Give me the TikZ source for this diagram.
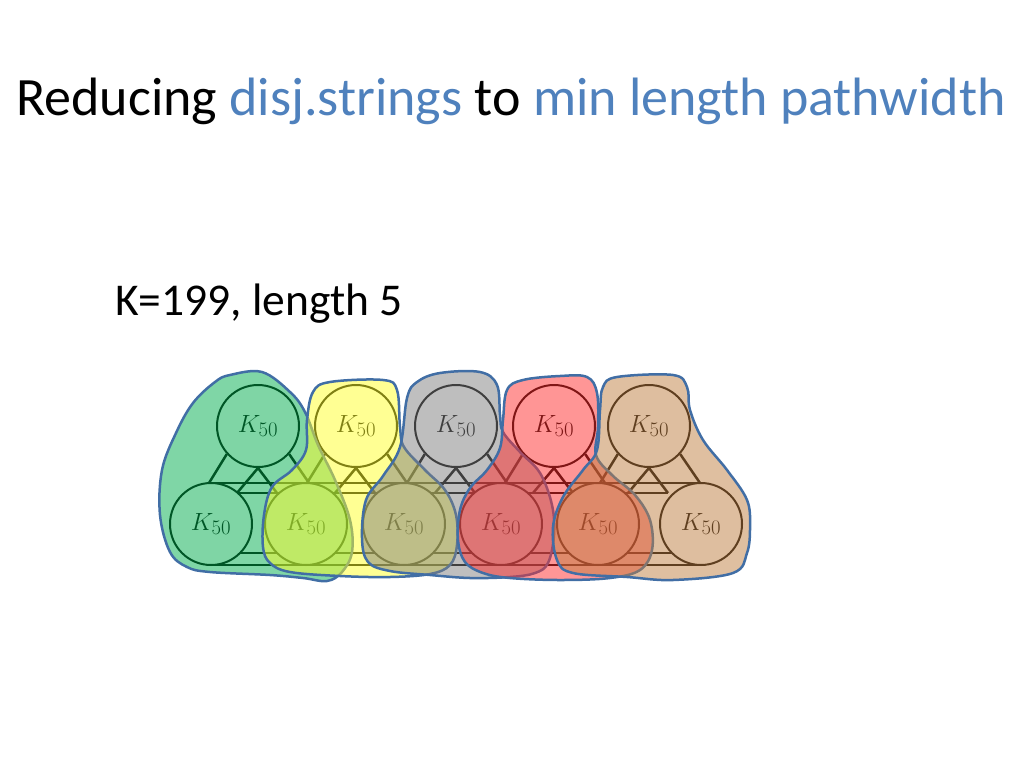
\documentclass[tikz,border=0pt]{standalone}
\usepackage{fontspec}
\setmainfont{Carlito}
\usetikzlibrary{calc}
\definecolor{accentblue}{RGB}{79,129,189}
\definecolor{blobline}{RGB}{65,110,165}
\definecolor{gfill}{RGB}{0,173,77}
\definecolor{yfill}{RGB}{255,255,40}
\definecolor{grfill}{RGB}{127,127,127}
\definecolor{rfill}{RGB}{255,45,45}
\definecolor{bfill}{RGB}{191,127,65}
\begin{document}
\begin{tikzpicture}[x=1pt,y=-1pt]
\useasboundingbox (0,0) rectangle (1024,768);
\tikzset{
  kc/.style={circle, draw=black, fill=white, line width=2pt, minimum size=82pt, inner sep=0pt, font=\fontsize{28}{28}\selectfont},
  edge/.style={line width=2.5pt, black},
  blob/.style={draw=blobline, line width=2.5pt, fill opacity=0.5, line join=round},
  titletext/.style={font=\fontsize{54}{60}\selectfont, inner sep=0pt},
  subtext/.style={font=\fontsize{45.5}{55}\selectfont, inner sep=0pt}
}
% title
\node[titletext, anchor=base] (title) at (511,115) {Reducing \textcolor{accentblue}{disj.strings} to \textcolor{accentblue}{min length pathwidth}};
\node[subtext, anchor=base west] (ktext) at (115,315) {K=199, length 5};

% circle positions
\coordinate (pt1) at (258,426);
\coordinate (pt2) at (356,426);
\coordinate (pt3) at (456,426);
\coordinate (pt4) at (554,426);
\coordinate (pt5) at (649,426);

% horizontal edge bundles
\draw[edge] ($(pt1)+(-47,57)$) -- ($(pt5)+(52,57)$);
\draw[edge] ($(pt1)+(-23,67)$) -- ($(pt5)+(19,67)$);
\draw[edge] ($(pt1)+(-47,127)$) -- ($(pt5)+(52,127)$);
\draw[edge] ($(pt1)+(-47,139)$) -- ($(pt5)+(52,139)$);

% top circles
\foreach \i in {1,...,5} {
  \node[kc] (t\i) at (pt\i) {$K_{50}$};
  \draw[edge] (t\i.222) -- ($(t\i.center)+(-49,57)$);
  \draw[edge] (t\i.318) -- ($(t\i.center)+(51,57)$);
  \draw[edge] ($(t\i.south)+(-21,25)$) -- (t\i.south) -- ($(t\i.south)+(19,25)$);
}
% bottom circles
\node[kc] (b1) at (211,524) {$K_{50}$};
\node[kc] (b2) at (306,524) {$K_{50}$};
\node[kc] (b3) at (404,524) {$K_{50}$};
\node[kc] (b4) at (501,524) {$K_{50}$};
\node[kc] (b5) at (598,524) {$K_{50}$};
\node[kc] (b6) at (701,524) {$K_{50}$};

% blobs
\draw[blob, fill=gfill] plot[smooth cycle, tension=0.6] coordinates {
 (230,375) (262,372) (290,392) (305,412) (318,445) (335,480) (350,520) (352,552)
 (342,572) (327,581) (303,578) (270,575) (210,572) (187,567) (170,552) (160,515) (162,470)
 (176,433) (193,403) (215,382)};
\draw[blob, fill=yfill] plot[smooth cycle, tension=0.6] coordinates {
 (313,392) (330,382) (383,380) (397,390) (400,427) (404,447) (425,470) (445,490)
 (456,515) (457,545) (450,565) (430,574) (390,577) (340,576) (290,572) (270,563)
 (263,547) (264,515) (272,487) (292,470) (306,450) (307,420)};
\draw[blob, fill=grfill] plot[smooth cycle, tension=0.6] coordinates {
 (407,398) (417,382) (440,373) (480,372) (497,385) (500,415) (503,432) (520,452)
 (540,473) (552,505) (554,535) (548,563) (535,573) (510,577) (470,578) (430,575)
 (390,571) (368,562) (362,538) (366,500) (383,476) (400,447)};
\draw[blob, fill=rfill] plot[smooth cycle, tension=0.6] coordinates {
 (507,390) (523,380) (560,376) (587,377) (597,393) (598,427) (596,455) (612,475)
 (635,495) (650,520) (652,550) (640,570) (610,578) (560,580) (510,578) (483,573)
 (465,562) (458,540) (460,510) (470,488) (487,470) (500,448) (503,420)};
\draw[blob, fill=bfill] plot[smooth cycle, tension=0.6] coordinates {
 (603,387) (617,377) (673,375) (687,387) (690,410) (703,440) (727,470) (747,500)
 (750,527) (747,553) (733,573) (673,580) (627,577) (573,573) (557,560) (553,527)
 (563,497) (583,470) (597,450) (600,410)};
\end{tikzpicture}
\end{document}
